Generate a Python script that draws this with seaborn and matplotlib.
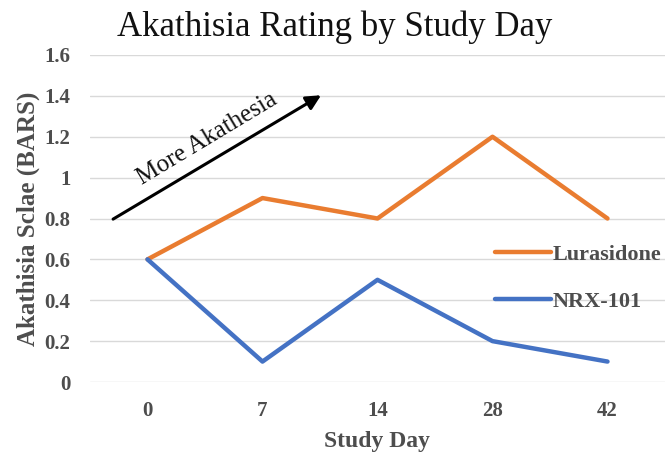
import numpy as np
import pandas as pd
import matplotlib
matplotlib.use("Agg")
import matplotlib.pyplot as plt
import seaborn as sb
from matplotlib.ticker import FuncFormatter

days = ["0", "7", "14", "28", "42"]
lurasidone = [0.6, 0.9, 0.8, 1.2, 0.8]
nrx101 = [0.6, 0.1, 0.5, 0.2, 0.1]
series_names = ["Lurasidone", "NRX-101"]
colors = ["#E97C30", "#4472C4"]

df = pd.DataFrame({
	"day": days * 2,
	"value": lurasidone + nrx101,
	"drug": [series_names[0]] * len(days) + [series_names[1]] * len(days),
})

sb.set_style("white")
plt.rcParams["font.family"] = ["Liberation Serif", "DejaVu Serif"]

fig = plt.figure(figsize = (6.65, 4.57), dpi = 100)
ax = fig.add_axes([90/665, 75/457, 575/665, 327/457])

sb.lineplot(data = df, x = "day", y = "value", hue = "drug", palette = colors,
	linewidth = 3.2, sort = False, ax = ax, legend = True)

ax.set_xlim(-0.5, 4.5)
ax.set_ylim(0, 1.6)
ax.set_yticks(np.arange(0, 1.61, 0.2))
ax.yaxis.set_major_formatter(FuncFormatter(lambda v, p: "{:g}".format(round(v, 1))))
ax.grid(axis = "y", color = "#d9d9d9", linewidth = 1)
ax.set_axisbelow(True)
for s in ax.spines.values():
	s.set_visible(False)
ax.tick_params(length = 0, labelsize = 15, labelcolor = "#4d4d4d")
ax.tick_params(axis = "y", pad = 14)
ax.tick_params(axis = "x", pad = 14)
for lab in ax.get_xticklabels() + ax.get_yticklabels():
	lab.set_fontweight("bold")

ax.set_xlabel("Study Day", fontsize = 17, fontweight = "bold", color = "#4d4d4d", labelpad = 7)
ax.set_ylabel("Akathisia Sclae (BARS)", fontsize = 18, fontweight = "bold", color = "#4d4d4d", labelpad = 3)

fig.text(0.504, 0.940, "Akathisia Rating by Study Day", fontsize = 25, ha = "center", va = "center", color = "#111111")

# arrow annotation
ax.annotate("", xy = (1.53, 1.41), xytext = (-0.32, 0.79),
	arrowprops = dict(arrowstyle = "-|>", color = "black", lw = 2.2, mutation_scale = 22))
ax.text(0.52, 1.19, "More Akathesia", rotation = 31, fontsize = 18, ha = "center", va = "center",
	rotation_mode = "anchor", color = "#111111")

ax.legend(loc = "center left", bbox_to_anchor = (495/665, (457 - 278)/457), bbox_transform = fig.transFigure,
	frameon = False, handlelength = 2.5, handletextpad = 0.1, labelspacing = 1.2,
	borderpad = 0, borderaxespad = 0,
	prop = dict(family = "Liberation Serif", weight = "bold", size = 16), labelcolor = "#4d4d4d")

fig.savefig("out.png", dpi = 100)
